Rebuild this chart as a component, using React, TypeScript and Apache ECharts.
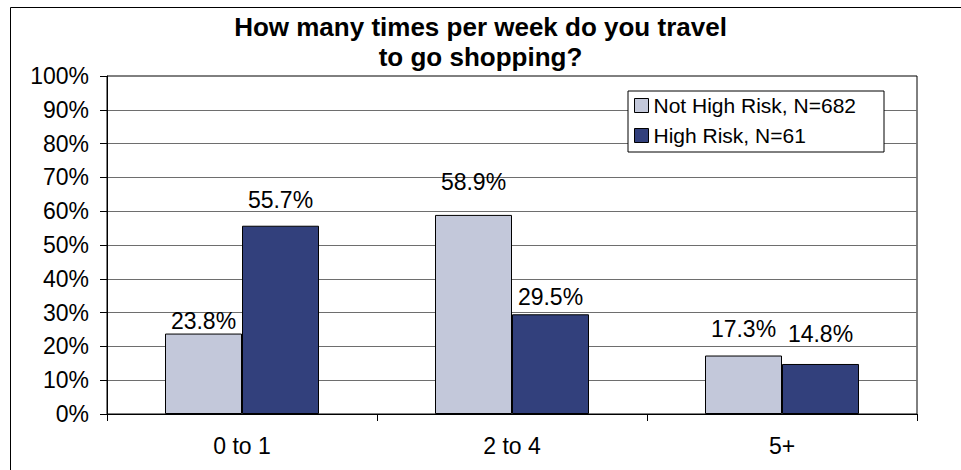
import React, { useEffect, useRef } from "react";
import * as echarts from "echarts";

const categories = ["0 to 1", "2 to 4", "5+"];
const seriesNames = ["Not High Risk, N=682", "High Risk, N=61"];
const notHighRisk = [23.8, 58.9, 17.3];
const highRisk = [55.7, 29.5, 14.8];
const yTicks = [0, 10, 20, 30, 40, 50, 60, 70, 80, 90, 100];
const titleText = "How many times per week do you travel\nto go shopping?";

// label lift above bar tops (style, px)
const labelDistances = [
  [1, 21, 15],
  [14, 6, 18],
];

const FONT = "'Liberation Sans', Arial, sans-serif";

export default function App() {
  const ref = useRef<HTMLDivElement>(null);
  useEffect(() => {
    if (!ref.current) return;
    const chart = echarts.init(ref.current, undefined, { renderer: "svg" });
    const mk = (vals: number[], si: number) =>
      vals.map((v, i) => ({ value: v, label: { distance: labelDistances[si][i] } }));
    const labelCfg = {
      show: true,
      position: "top",
      color: "#000",
      fontFamily: FONT,
      fontSize: 23,
      formatter: (p: any) => Number(p.value).toFixed(1) + "%",
    };
    chart.setOption({
      animation: false,
      backgroundColor: "#fff",
      textStyle: { fontFamily: FONT },
      graphic: [
        {
          type: "rect",
          shape: { x: 10.5, y: 7.5, width: 1000, height: 500 },
          style: { fill: "none", stroke: "#000", lineWidth: 1 },
          silent: true,
          z: 0,
        },
        {
          type: "text",
          x: 480.5,
          y: 12,
          silent: true,
          z: 10,
          style: {
            text: titleText,
            textAlign: "center",
            textVerticalAlign: "top",
            fontFamily: FONT,
            fontSize: 26,
            fontWeight: "bold",
            fill: "#000",
            lineHeight: 30,
          },
        },
      ],
      legend: {
        orient: "vertical",
        left: 628,
        top: 91,
        padding: [4, 28, 6, 6],
        itemGap: 9,
        itemWidth: 14,
        itemHeight: 14,
        icon: "rect",
        borderColor: "#000",
        borderWidth: 1,
        backgroundColor: "#fff",
        itemStyle: { borderColor: "#000", borderWidth: 1 },
        textStyle: { fontFamily: FONT, fontSize: 21, color: "#000" },
        data: seriesNames,
      },
      grid: {
        left: 107,
        right: 44,
        top: 76,
        bottom: 56,
        show: true,
        borderColor: "#000",
        borderWidth: 1,
        backgroundColor: "transparent",
      },
      xAxis: {
        type: "category",
        data: categories,
        axisLine: { show: true, lineStyle: { color: "#000", width: 1 } },
        axisTick: { show: true, length: 7, lineStyle: { color: "#000" } },
        axisLabel: { color: "#000", fontFamily: FONT, fontSize: 23, margin: 20 },
        splitLine: { show: false },
      },
      yAxis: {
        type: "value",
        min: yTicks[0],
        max: yTicks[yTicks.length - 1],
        interval: 10,
        axisLine: { show: true, lineStyle: { color: "#000", width: 1 } },
        axisTick: { show: true, length: 7, lineStyle: { color: "#000" } },
        axisLabel: {
          color: "#000",
          fontFamily: FONT,
          fontSize: 23,
          margin: 18,
          formatter: "{value}%",
        },
        splitLine: {
          show: true,
          showMinLine: false,
          showMaxLine: false,
          lineStyle: { color: "#6e6e6e", width: 1 },
        },
      },
      series: [
        {
          name: seriesNames[0],
          type: "bar",
          data: mk(notHighRisk, 0),
          barWidth: 77,
          barGap: "0%",
          itemStyle: { color: "#C3C8DA", borderColor: "#000", borderWidth: 1 },
          label: labelCfg,
        },
        {
          name: seriesNames[1],
          type: "bar",
          data: mk(highRisk, 1),
          barWidth: 77,
          barGap: "0%",
          itemStyle: { color: "#32407C", borderColor: "#000", borderWidth: 1 },
          label: labelCfg,
        },
      ],
    });
    return () => chart.dispose();
  }, []);
  return (
    <div
      ref={ref}
      style={{ position: "fixed", left: 0, top: 0, width: 961, height: 470, background: "#fff" }}
    />
  );
}
